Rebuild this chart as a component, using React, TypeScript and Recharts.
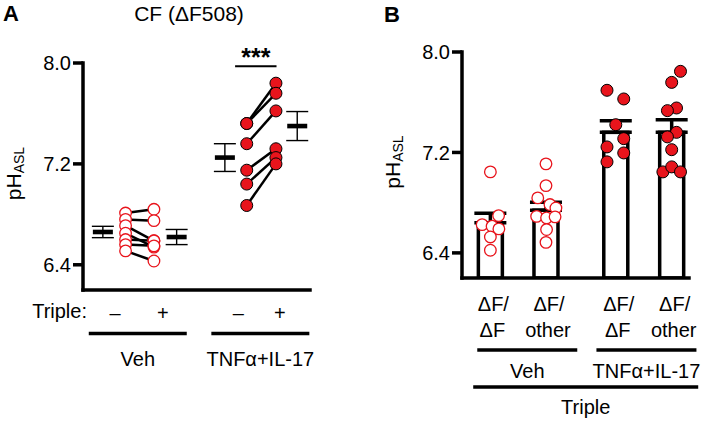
import React from "react";
import {
  ComposedChart,
  Scatter,
  Bar,
  XAxis,
  YAxis,
  ErrorBar,
  ReferenceLine,
} from "recharts";

const RED = "#e8141c";
const FONT = "'Liberation Sans', Arial, Helvetica, sans-serif";

// shared y axis
const yTicks = [6.4, 7.2, 8.0];
const yDomain = [6.2, 8.0];

// ---- panel A: paired wells, Triple − then Triple + ----
const vehMinus = [6.81, 6.76, 6.71, 6.65, 6.6, 6.56, 6.51];
const vehPlus = [6.84, 6.75, 6.59, 6.54, 6.59, 6.55, 6.43];
const tnfMinus = [7.52, 7.52, 7.36, 7.15, 7.04, 6.87];
const tnfPlus = [7.84, 7.76, 7.62, 7.32, 7.25, 7.2];

// x slots on a 0–8 scale: veh −, veh +, tnf −, tnf +
const pairX = [1.5, 2.5, 5.77, 6.8];
const meanX = [0.7, 3.3, 5.0, 7.55];
const meanA = [6.66, 6.62, 7.25, 7.5];
const semA = [0.045, 0.06, 0.11, 0.115];

const signTicks = [1.13, 2.81, 5.47, 6.94];
const signLabels = ["–", "+", "–", "+"];
const groupA = ["Veh", "TNFα+IL-17"];
const groupAX = [1.93, 6.25];
const sigX = [5.36, 6.82];
const sigY = 7.975;

// ---- panel B: bars with individual wells ----
const barTop = ["ΔF/", "ΔF/", "ΔF/", "ΔF/"];
const barBottom = ["ΔF", "other", "ΔF", "other"];
const barX = [1, 2.96, 5.42, 7.39];
const barMean = [6.64, 6.74, 7.36, 7.36];
const barSem = [0.076, 0.063, 0.093, 0.1];

const dotsDFDFVeh = [7.045, 6.697, 6.625, 6.612, 6.591, 6.527, 6.421];
const dotsDFOtherVeh = [7.109, 6.936, 6.838, 6.785, 6.758, 6.691, 6.679, 6.687, 6.586, 6.484];
const dotsDFDFTnf = [7.695, 7.626, 7.421, 7.31, 7.244, 7.196, 7.125];
const dotsDFOtherTnf = [7.846, 7.758, 7.554, 7.533, 7.36, 7.324, 7.222, 7.045, 7.085, 7.045];

const jitDFDFVeh = [0, 0.29, -0.29, 0.06, 0.3, 0, 0];
const jitDFOtherVeh = [0, 0, -0.29, 0.14, 0.35, -0.33, 0.02, 0.32, 0.02, 0];
const jitDFDFTnf = [-0.31, 0.28, 0, 0.28, -0.31, 0.28, -0.31];
const jitDFOtherTnf = [0.31, 0, 0.17, -0.15, 0.17, -0.15, 0, -0.31, 0, 0.31];

const groupB = ["Veh", "TNFα+IL-17"];
const groupBX = [2.3, 6.5];
const tripleLabel = ["Triple"];
const tripleX = [4.36];

const dotsB = [dotsDFDFVeh, dotsDFOtherVeh, dotsDFDFTnf, dotsDFOtherTnf];
const jitB = [jitDFDFVeh, jitDFOtherVeh, jitDFDFTnf, jitDFOtherTnf];

// shapes
const OpenDot = (p: any) => (
  <circle cx={p.cx} cy={p.cy} r={5.8} fill="#fff" stroke={RED} strokeWidth={1.3} />
);
const FilledDot = (p: any) => (
  <circle cx={p.cx} cy={p.cy} r={6} fill={RED} stroke="#000" strokeWidth={1} />
);
const MeanMark = (p: any) => (
  <rect x={p.cx - 10} y={p.cy - 2.3} width={20} height={4.6} fill="#000" />
);
const NoDot = () => <g />;
const OpenBar = (p: any) => (
  <rect
    x={p.x + p.width / 2 - 12}
    y={p.y}
    width={24}
    height={p.height}
    fill="#fff"
    stroke="#000"
    strokeWidth={3.5}
  />
);

const GroupTick = (props: any) => {
  const { x, y, index, labels, half, lineDy, textDy } = props;
  return (
    <g>
      <line x1={x - half} x2={x + half} y1={y + lineDy} y2={y + lineDy} stroke="#000" strokeWidth={3.5} />
      <text x={x} y={y + textDy} textAnchor="middle" fontSize={20} fill="#000">
        {labels[index]}
      </text>
    </g>
  );
};

const BarTick = (props: any) => {
  const { x, y, index } = props;
  return (
    <g>
      <text x={x + 3} y={y + 33} textAnchor="middle" fontSize={20} fill="#000">
        {barTop[index]}
      </text>
      <text x={x + 2} y={y + 58.5} textAnchor="middle" fontSize={20} fill="#000">
        {barBottom[index]}
      </text>
    </g>
  );
};

const phLabel = (props: any) => {
  const { viewBox } = props;
  const bx = viewBox.x + viewBox.width - 62.5;
  const cy = viewBox.y + viewBox.height / 2 - 3;
  return (
    <text x={bx} y={cy} transform={`rotate(-90, ${bx}, ${cy})`} textAnchor="middle" fontSize={21} fill="#000">
      pH
      <tspan dy={3} fontSize={14}>ASL</tspan>
    </text>
  );
};

const axisLine = { stroke: "#000", strokeWidth: 3.5, strokeLinecap: "square" as const };
const tickLine = { stroke: "#000", strokeWidth: 3.5 };
const tickText = { fill: "#000", fontSize: 20 };

// label-only axis below the plot; a hidden scatter gives it a scale
const labelAxis = (id: string, ticks: number[], height: number, tick: any) => [
  <XAxis
    key={id + "-axis"}
    xAxisId={id}
    type="number"
    dataKey="x"
    domain={[0, 8]}
    allowDataOverflow
    ticks={ticks}
    interval={0}
    axisLine={false}
    tickLine={false}
    tickSize={0}
    tickMargin={0}
    height={height}
    tick={tick}
  />,
  <Scatter
    key={id + "-anchor"}
    xAxisId={id}
    data={ticks.map((x) => ({ x, y: yDomain[0] }))}
    shape={NoDot}
    isAnimationActive={false}
  />,
];

function PanelA() {
  const pairs = [
    ...vehMinus.map((v, i) => [
      { x: pairX[0], y: v },
      { x: pairX[1], y: vehPlus[i] },
    ]),
    ...tnfMinus.map((v, i) => [
      { x: pairX[2], y: v },
      { x: pairX[3], y: tnfPlus[i] },
    ]),
  ];
  const vehDots = [
    ...vehMinus.map((v) => ({ x: pairX[0], y: v })),
    ...vehPlus.map((v) => ({ x: pairX[1], y: v })),
  ];
  const tnfDots = [
    ...tnfMinus.map((v) => ({ x: pairX[2], y: v })),
    ...tnfPlus.map((v) => ({ x: pairX[3], y: v })),
  ];
  const means = meanA.map((m, i) => ({ x: meanX[i], y: m, sem: semA[i] }));

  return (
    <ComposedChart width={340} height={421} margin={{ top: 63, right: 30, bottom: 0, left: 0 }}>
      <XAxis
        type="number"
        dataKey="x"
        domain={[0, 8]}
        allowDataOverflow
        ticks={signTicks}
        interval={0}
        tickFormatter={(v: number) => signLabels[signTicks.indexOf(v)]}
        tickLine={false}
        tickSize={0}
        tickMargin={16}
        height={42}
        axisLine={axisLine}
        tick={tickText}
        label={{ value: "Triple:", position: "left", offset: -4, fill: "#000", fontSize: 20 }}
      />
      {labelAxis("grp", groupAX, 89, <GroupTick labels={groupA} half={49} lineDy={1.5} textDy={34} />)}
      <YAxis
        type="number"
        dataKey="y"
        domain={yDomain}
        allowDataOverflow
        ticks={yTicks}
        interval={0}
        tickFormatter={(v: number) => v.toFixed(1)}
        width={83}
        tickSize={10}
        tickMargin={2}
        axisLine={axisLine}
        tickLine={tickLine}
        tick={tickText}
        label={phLabel}
      />
      <ReferenceLine
        segment={[
          { x: sigX[0], y: sigY },
          { x: sigX[1], y: sigY },
        ]}
        stroke="#000"
        strokeWidth={2}
        ifOverflow="visible"
        label={{ value: "***", position: "top", offset: 0, fill: "#000", fontSize: 25, fontWeight: "bold" }}
      />
      {pairs.map((d, i) => (
        <Scatter
          key={"pair" + i}
          data={d}
          shape={NoDot}
          line={{ stroke: "#000", strokeWidth: 2.5 }}
          isAnimationActive={false}
        />
      ))}
      <Scatter data={vehDots} shape={OpenDot} isAnimationActive={false} />
      <Scatter data={tnfDots} shape={FilledDot} isAnimationActive={false} />
      <Scatter data={means} shape={MeanMark} isAnimationActive={false}>
        <ErrorBar dataKey="sem" direction="y" width={11} strokeWidth={1.4} stroke="#000" />
      </Scatter>
    </ComposedChart>
  );
}

function PanelB() {
  const rows = barMean.map((m, i) => ({ x: barX[i], y: m, err: [0, barSem[i]] }));
  return (
    <ComposedChart width={348} height={421} data={rows} margin={{ top: 52, right: 19, bottom: 0, left: 0 }}>
      <XAxis
        type="number"
        dataKey="x"
        domain={[0, 8]}
        allowDataOverflow
        ticks={barX}
        interval={0}
        tickLine={false}
        tickSize={0}
        tickMargin={0}
        height={70}
        axisLine={axisLine}
        tick={<BarTick />}
      />
      {labelAxis("grp", groupBX, 36, <GroupTick labels={groupB} half={50} lineDy={2} textDy={30} />)}
      {labelAxis("triple", tripleX, 37, <GroupTick labels={tripleLabel} half={112.5} lineDy={3} textDy={30} />)}
      <YAxis
        type="number"
        dataKey="y"
        domain={yDomain}
        allowDataOverflow
        ticks={yTicks}
        interval={0}
        tickFormatter={(v: number) => v.toFixed(1)}
        width={102}
        tickSize={10}
        tickMargin={2}
        axisLine={axisLine}
        tickLine={tickLine}
        tick={tickText}
        label={phLabel}
      />
      <Bar dataKey="y" barSize={24} shape={OpenBar} isAnimationActive={false}>
        <ErrorBar dataKey="err" direction="y" width={16} strokeWidth={3.5} stroke="#000" />
      </Bar>
      {dotsB.map((vals, g) => (
        <Scatter
          key={"dots" + g}
          data={vals.map((v, i) => ({ x: barX[g] + jitB[g][i], y: v }))}
          shape={g < 2 ? OpenDot : FilledDot}
          isAnimationActive={false}
        />
      ))}
    </ComposedChart>
  );
}

export default function App() {
  return (
    <div
      style={{
        position: "absolute",
        left: 0,
        top: 0,
        width: 708,
        height: 421,
        background: "#fff",
        fontFamily: FONT,
        color: "#000",
      }}
    >
      <div style={{ position: "absolute", left: 0, top: 0 }}>
        <PanelA />
      </div>
      <div style={{ position: "absolute", left: 360, top: 0 }}>
        <PanelB />
      </div>
      <div style={{ position: "absolute", left: 3, top: 1, fontSize: 22, fontWeight: "bold", lineHeight: "normal" }}>
        A
      </div>
      <div style={{ position: "absolute", left: 384, top: 2, fontSize: 22, fontWeight: "bold", lineHeight: "normal" }}>
        B
      </div>
      <div
        style={{
          position: "absolute",
          left: 89,
          top: 2,
          width: 200,
          textAlign: "center",
          fontSize: 21,
          lineHeight: "normal",
        }}
      >
        CF (ΔF508)
      </div>
    </div>
  );
}
